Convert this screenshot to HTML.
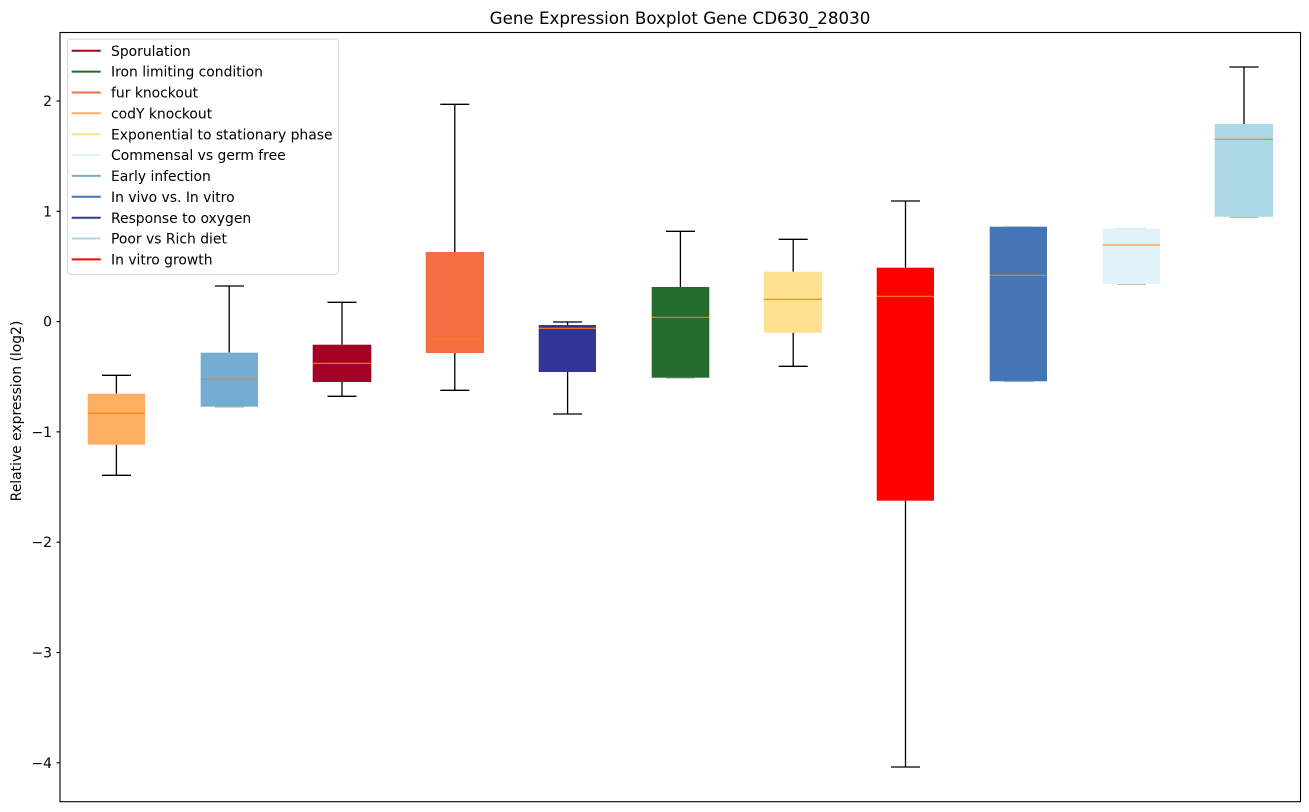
<!DOCTYPE html>
<html><head><meta charset="utf-8"><style>
html,body{margin:0;padding:0;background:#fff;}
svg{display:block;}
text{font-family:"DejaVu Sans","Liberation Sans",sans-serif;fill:#000;}
</style></head><body>
<svg width="1309" height="812" viewBox="0 0 1309 812" xmlns="http://www.w3.org/2000/svg">
<rect width="1309" height="812" fill="#fff"/>
<text x="680" y="24" font-size="16.7" text-anchor="middle">Gene Expression Boxplot Gene CD630_28030</text>
<!-- y ticks -->
<g stroke="#000" stroke-width="1.1">
<line x1="56.5" y1="101" x2="60" y2="101"/>
<line x1="56.5" y1="211.3" x2="60" y2="211.3"/>
<line x1="56.5" y1="321.6" x2="60" y2="321.6"/>
<line x1="56.5" y1="431.9" x2="60" y2="431.9"/>
<line x1="56.5" y1="542.2" x2="60" y2="542.2"/>
<line x1="56.5" y1="652.5" x2="60" y2="652.5"/>
<line x1="56.5" y1="762.8" x2="60" y2="762.8"/>
</g>
<g font-size="13.9" text-anchor="end">
<text x="52" y="106">2</text>
<text x="52" y="216.3">1</text>
<text x="52" y="326.6">0</text>
<text x="52" y="436.9">−1</text>
<text x="52" y="547.2">−2</text>
<text x="52" y="657.5">−3</text>
<text x="52" y="767.8">−4</text>
</g>
<text transform="translate(21,411) rotate(-90)" font-size="13.9" text-anchor="middle">Relative expression (log2)</text>

<!-- whiskers and caps -->
<g stroke="#000" stroke-width="1.3" fill="none">
<line x1="116.4" y1="375.3" x2="116.4" y2="393.7"/><line x1="116.4" y1="444.7" x2="116.4" y2="475.3"/>
<line x1="102" y1="375.3" x2="131" y2="375.3"/><line x1="102" y1="475.3" x2="131" y2="475.3"/>
<line x1="229.2" y1="286" x2="229.2" y2="352.7"/><line x1="215" y1="286" x2="244" y2="286"/>
<line x1="342" y1="302.3" x2="342" y2="344.7"/><line x1="342" y1="382" x2="342" y2="396.3"/>
<line x1="327.5" y1="302.3" x2="356.5" y2="302.3"/><line x1="327.5" y1="396.3" x2="356.5" y2="396.3"/>
<line x1="454.8" y1="104.3" x2="454.8" y2="252"/><line x1="454.8" y1="353" x2="454.8" y2="390.3"/>
<line x1="440.3" y1="104.3" x2="469.3" y2="104.3"/><line x1="440.3" y1="390.3" x2="469.3" y2="390.3"/>
<line x1="567.6" y1="322" x2="567.6" y2="325"/><line x1="567.6" y1="372" x2="567.6" y2="414"/>
<line x1="553" y1="322" x2="582" y2="322"/><line x1="553" y1="414" x2="582" y2="414"/>
<line x1="680.4" y1="231.3" x2="680.4" y2="287"/><line x1="666" y1="231.3" x2="695" y2="231.3"/>
<line x1="793.2" y1="239.3" x2="793.2" y2="271.7"/><line x1="793.2" y1="332.7" x2="793.2" y2="366.3"/>
<line x1="778.7" y1="239.3" x2="807.7" y2="239.3"/><line x1="778.7" y1="366.3" x2="807.7" y2="366.3"/>
<line x1="905.5" y1="201" x2="905.5" y2="267.7"/><line x1="905.5" y1="500.7" x2="905.5" y2="767"/>
<line x1="891" y1="201" x2="920" y2="201"/><line x1="891" y1="767" x2="920" y2="767"/>
<line x1="1244" y1="67" x2="1244" y2="124"/><line x1="1229.5" y1="67" x2="1258.5" y2="67"/>
</g>
<g stroke="#bbb" stroke-width="1.3">
<line x1="215" y1="407" x2="244" y2="407"/>
<line x1="666" y1="378" x2="695" y2="378"/>
<line x1="1004" y1="227" x2="1033" y2="227"/><line x1="1004" y1="381.5" x2="1033" y2="381.5"/>
<line x1="1117" y1="229" x2="1146" y2="229"/><line x1="1117" y1="284.3" x2="1146" y2="284.3"/>
<line x1="1229.5" y1="217.3" x2="1258.5" y2="217.3"/>
</g>

<!-- boxes -->
<g>
<rect x="87.7" y="393.7" width="57.3" height="51" fill="#fdae61"/>
<rect x="200.7" y="352.7" width="57.3" height="54" fill="#74add1"/>
<rect x="312.7" y="344.7" width="58.6" height="37.3" fill="#a50026"/>
<rect x="425.7" y="252" width="58.3" height="101" fill="#f46d43"/>
<rect x="538.7" y="325" width="57.3" height="47" fill="#313695"/>
<rect x="651.7" y="287" width="57.6" height="90.7" fill="#236b2e"/>
<rect x="763.7" y="271.7" width="58.3" height="61" fill="#fee090"/>
<rect x="876.7" y="267.7" width="57.3" height="233" fill="#ff0000"/>
<rect x="989.7" y="226.7" width="57.3" height="154.6" fill="#4575b4"/>
<rect x="1102.7" y="228.7" width="57.3" height="55.3" fill="#e0f3f8"/>
<rect x="1214.7" y="124" width="58.3" height="92.7" fill="#add8e6"/>
</g>
<g stroke="#ff7f0e" stroke-width="1.1">
<line x1="87.7" y1="413.3" x2="145" y2="413.3"/>
<line x1="200.7" y1="379.3" x2="258" y2="379.3"/>
<line x1="312.7" y1="363.3" x2="371.3" y2="363.3"/>
<line x1="425.7" y1="339.3" x2="484" y2="339.3"/>
<line x1="538.7" y1="328.3" x2="596" y2="328.3"/>
<line x1="651.7" y1="317.3" x2="709.3" y2="317.3"/>
<line x1="763.7" y1="299.3" x2="822" y2="299.3"/>
<line x1="876.7" y1="296.3" x2="934" y2="296.3"/>
<line x1="989.7" y1="275.3" x2="1047" y2="275.3"/>
<line x1="1102.7" y1="245" x2="1160" y2="245"/>
<line x1="1214.7" y1="139.3" x2="1273" y2="139.3"/>
</g>

<rect x="60" y="32.5" width="1240.5" height="769.2" fill="none" stroke="#000" stroke-width="1.1"/>

<!-- legend -->
<rect x="67.7" y="39.3" width="270.6" height="235" rx="2.5" fill="#fff" fill-opacity="0.8" stroke="#d6d6d6" stroke-width="1"/>
<g stroke-width="2">
<line x1="71.7" y1="50.7" x2="100.7" y2="50.7" stroke="#a50026"/>
<line x1="71.7" y1="71.6" x2="100.7" y2="71.6" stroke="#236b2e"/>
<line x1="71.7" y1="92.5" x2="100.7" y2="92.5" stroke="#f46d43"/>
<line x1="71.7" y1="113.3" x2="100.7" y2="113.3" stroke="#fdae61"/>
<line x1="71.7" y1="134.2" x2="100.7" y2="134.2" stroke="#fee090"/>
<line x1="71.7" y1="155.1" x2="100.7" y2="155.1" stroke="#e0f3f8"/>
<line x1="71.7" y1="175.9" x2="100.7" y2="175.9" stroke="#74add1"/>
<line x1="71.7" y1="196.8" x2="100.7" y2="196.8" stroke="#4575b4"/>
<line x1="71.7" y1="217.7" x2="100.7" y2="217.7" stroke="#313695"/>
<line x1="71.7" y1="238.5" x2="100.7" y2="238.5" stroke="#add8e6"/>
<line x1="71.7" y1="259.4" x2="100.7" y2="259.4" stroke="#ff0000"/>
</g>
<g font-size="13.9">
<text x="111" y="55.8">Sporulation</text>
<text x="111" y="76.7">Iron limiting condition</text>
<text x="111" y="97.6">fur knockout</text>
<text x="111" y="118.4">codY knockout</text>
<text x="111" y="139.3">Exponential to stationary phase</text>
<text x="111" y="160.2">Commensal vs germ free</text>
<text x="111" y="181">Early infection</text>
<text x="111" y="201.9">In vivo vs. In vitro</text>
<text x="111" y="222.8">Response to oxygen</text>
<text x="111" y="243.6">Poor vs Rich diet</text>
<text x="111" y="264.5">In vitro growth</text>
</g>
</svg>
</body></html>
